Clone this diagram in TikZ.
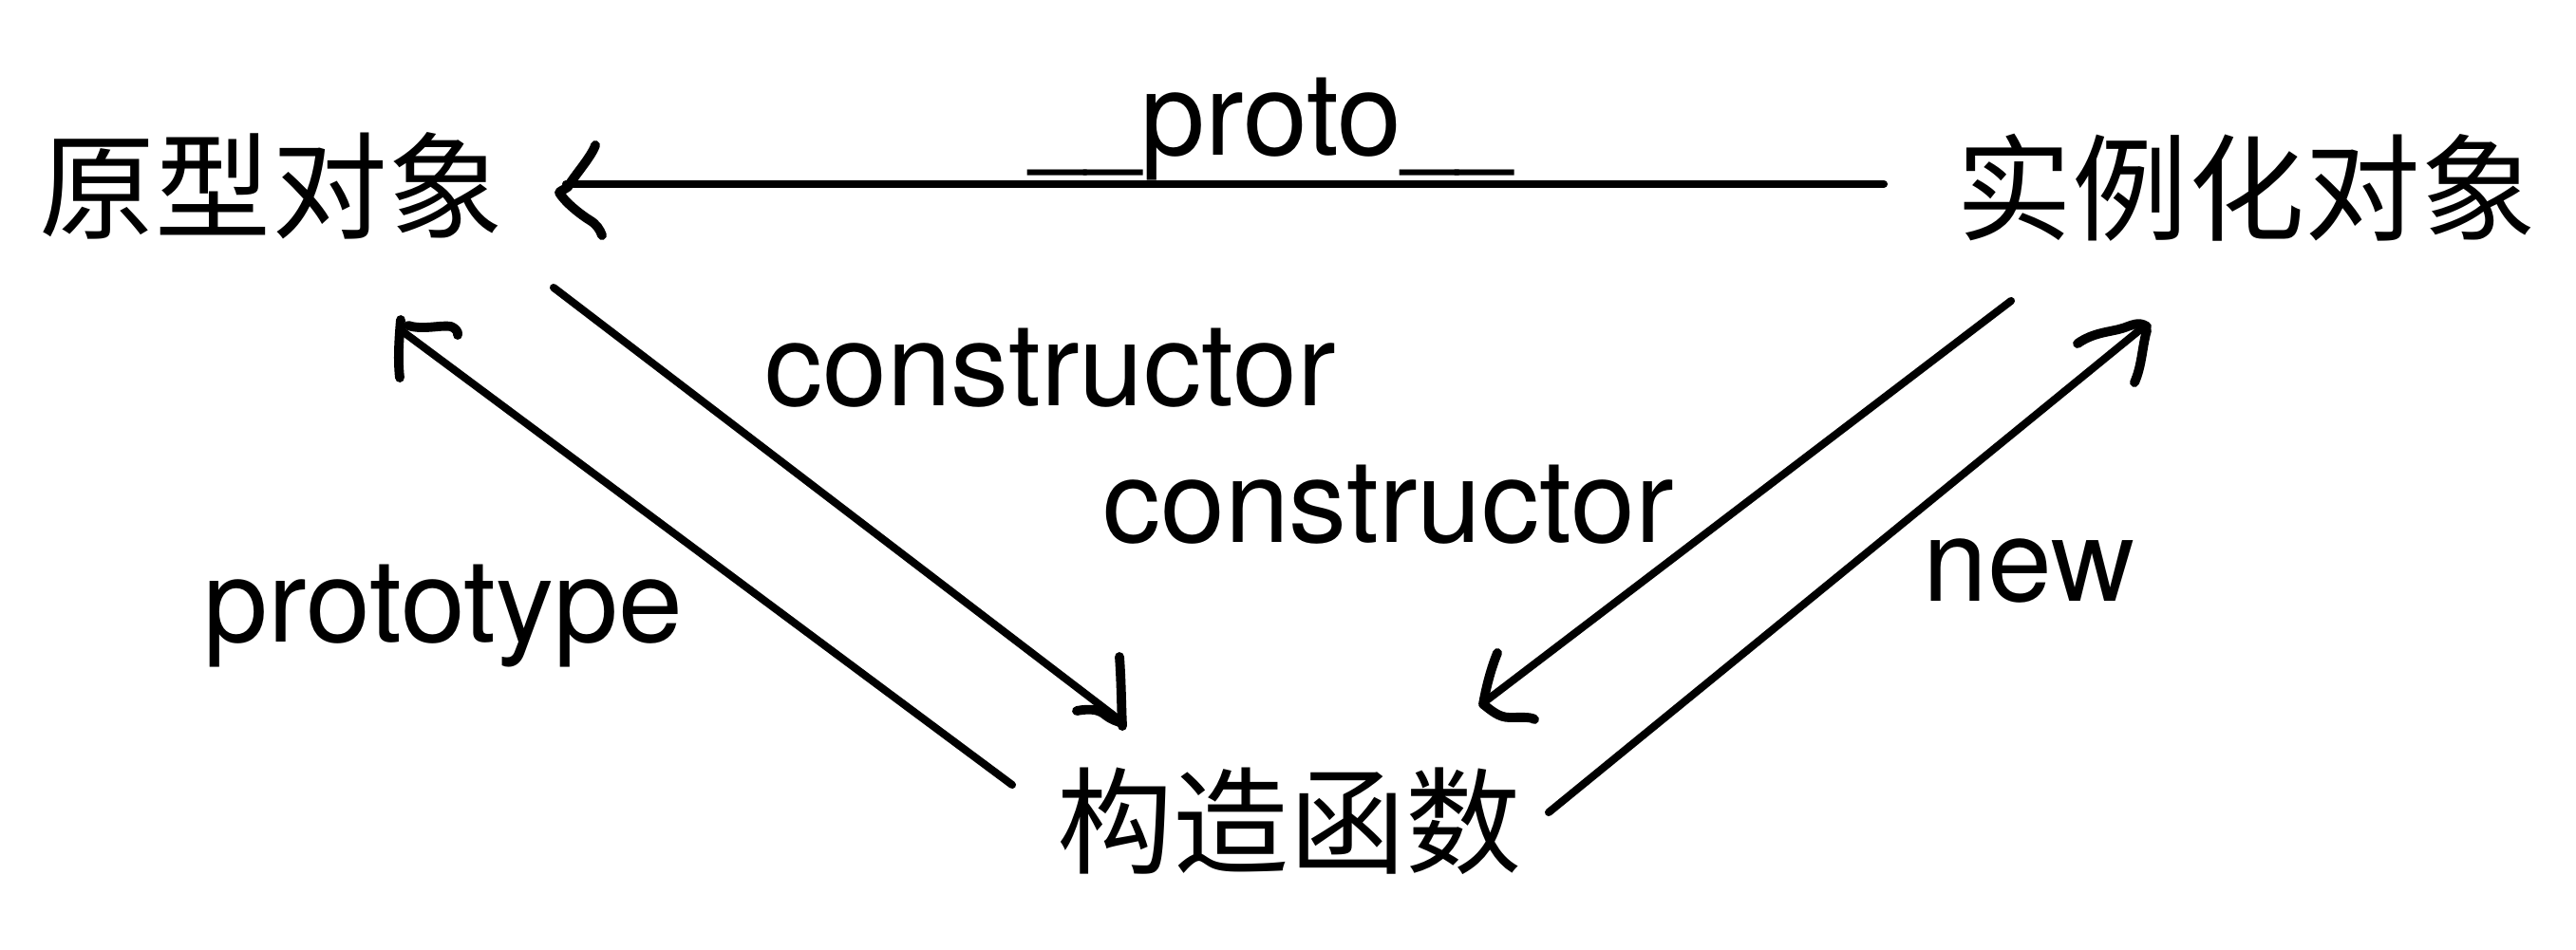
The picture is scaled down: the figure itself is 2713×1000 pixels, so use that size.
\documentclass[tikz,border=0pt]{standalone}
\usepackage{fontspec}
\setmainfont{TeX Gyre Heros}
\newfontfamily\cjk{Noto Sans CJK SC}
\newcommand\myunders{\scalebox{0.86}[1]{\_\_}}
\begin{document}
\begin{tikzpicture}[x=0.01cm,y=-0.01cm]
\tikzset{
  conn/.style={line width=2.3pt, line cap=round},
  barb/.style={line width=2.8pt, line cap=round, line join=round},
  cjknode/.style={font=\cjk\fontsize{34.7pt}{40pt}\selectfont, inner sep=0pt},
  lbl/.style={font=\fontsize{34.7pt}{40pt}\selectfont, inner sep=0pt, anchor=base}
}
\useasboundingbox (0,0) rectangle (2713,1000);
% main nodes
\node[cjknode] (proto) at (286,196) {原型对象};
\node[cjknode] (inst) at (2366,198) {实例化对象};
\node[cjknode] (ctor) at (1358,865) {构造函数};
% labels
\node[lbl] (lproto) at (1339,163) {\myunders proto\myunders};
\node[lbl] (lcons1) at (1106,427) {constructor};
\node[lbl] (lcons2) at (1462,571) {constructor};
\node[lbl] (lptype) at (467,676) {prototype};
\node[lbl] (lnew) at (2137,633) {new};
% connector end points
\coordinate (instOut) at (1984,194);
\coordinate (protoIn) at (596,194);
\coordinate (protoOut) at (583,303);
\coordinate (ctorIn1) at (1181,760);
\coordinate (instOut2) at (2118,317);
\coordinate (ctorIn2) at (1563,740);
\coordinate (ctorOut1) at (1631,856);
\coordinate (instIn) at (2258,344);
\coordinate (ctorOut2) at (1066,827);
\coordinate (protoIn2) at (421,347);
% __proto__
\draw[conn] (instOut) -- (protoIn);
\draw[barb] (627,153) .. controls (623,165) and (605,185) .. (598,197)
  .. controls (594,200) and (590,201) .. (589,203)
  .. controls (595,213) and (610,225) .. (621,232)
  .. controls (628,236) and (632,242) .. (634,248);
% constructor (proto -> ctor)
\draw[conn] (protoOut) -- (ctorIn1);
\draw[barb] (1179,692) .. controls (1181,720) and (1181,745) .. (1182,765);
\draw[barb] (1134,749) .. controls (1150,746) and (1158,748) .. (1165,754)
  .. controls (1170,758) and (1176,760) .. (1182,762);
% constructor (inst -> ctor)
\draw[conn] (instOut2) -- (ctorIn2);
\draw[barb] (1577,688) .. controls (1570,705) and (1565,725) .. (1562,742)
  .. controls (1570,748) and (1578,756) .. (1590,756)
  .. controls (1600,756) and (1612,755) .. (1616,758);
% new (ctor -> inst)
\draw[conn] (ctorOut1) -- (instIn);
\draw[barb] (2188,362) .. controls (2205,350) and (2222,350) .. (2235,346)
  .. controls (2245,343) and (2252,338) .. (2261,344);
\draw[barb] (2261,348) .. controls (2256,365) and (2256,385) .. (2248,403);
% prototype (ctor -> proto)
\draw[conn] (ctorOut2) -- (protoIn2);
\draw[barb] (422,337) .. controls (420,360) and (419,380) .. (421,398);
\draw[barb] (430,343) .. controls (445,348) and (465,342) .. (475,344)
  .. controls (480,346) and (483,350) .. (482,353);
\end{tikzpicture}
\end{document}
